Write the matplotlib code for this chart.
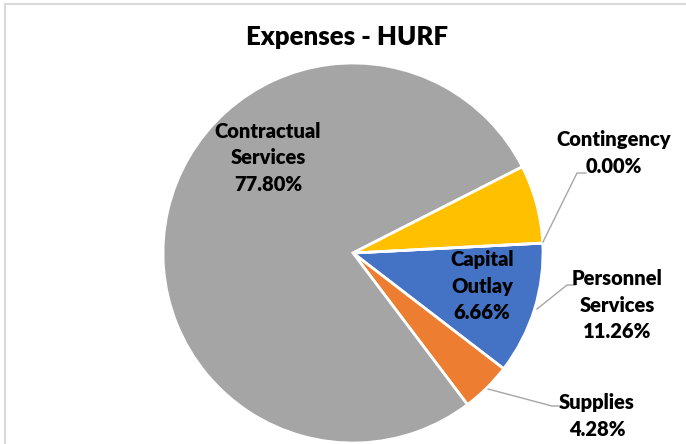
import matplotlib
matplotlib.use('Agg')
import matplotlib.pyplot as plt
from matplotlib.lines import Line2D

categories = ['Personnel Services', 'Supplies', 'Contractual Services', 'Capital Outlay', 'Contingency']
values = [11.26, 4.28, 77.80, 6.66, 0.00]
label_names = ['Personnel\nServices', 'Supplies', 'Contractual\nServices', 'Capital\nOutlay', 'Contingency']
colors = ['#4472C4', '#ED7D31', '#A5A5A5', '#FFC000', '#5B9BD5']

plt.rcParams['font.family'] = ['Lato', 'DejaVu Sans']

W, H = 686, 444
fig = plt.figure(figsize=(W / 100, H / 100), dpi=100)

# pie centre and radius in pixels
cx, cy, r = 353, 253, 190
ax = fig.add_axes([(cx - r) / W, (H - cy - r) / H, 2 * r / W, 2 * r / H])
ax.axis('off')

ax.pie(values, colors=colors, startangle=3, counterclock=False, radius=1,
       center=(0, 0), frame=False,
       wedgeprops=dict(edgecolor='white', linewidth=2))
ax.set_xlim(-1, 1)
ax.set_ylim(-1, 1)
ax.set_aspect('auto')


def px(x, y):
    return (x - cx) / r, (cy - y) / r


# label centres in pixel coordinates
label_pos = {
    'Personnel Services': (617, 305),
    'Supplies': (597, 416),
    'Contractual Services': (268, 158),
    'Capital Outlay': (482, 286),
    'Contingency': (614, 153),
}
for cat, name, val in zip(categories, label_names, values):
    x, y = px(*label_pos[cat])
    ax.text(x, y, f'{name}\n{val:.2f}%', ha='center', va='center',
            fontsize=14.5, fontweight='heavy', linespacing=1.45,
            color='black', clip_on=False)

# leader lines
leaders = [
    [(543, 242), (577, 173), (586, 173)],
    [(537, 309), (567, 285), (575, 285)],
    [(488, 389), (552, 406), (560, 406)],
]
for pts in leaders:
    xs, ys = zip(*[px(*p) for p in pts])
    ax.plot(xs, ys, color='#A6A6A6', linewidth=1, clip_on=False)

fig.text(347 / W, 1 - 37 / H, 'Expenses - HURF', ha='center', va='center',
         fontsize=18.5, fontweight='heavy', color='black')

# chart border (left and top edges)
fig.add_artist(Line2D([4.5 / W, 4.5 / W], [0, 1 - 4.5 / H], color='#D9D9D9', linewidth=1.5))
fig.add_artist(Line2D([4.5 / W, 1], [1 - 4.5 / H, 1 - 4.5 / H], color='#D9D9D9', linewidth=1.5))

fig.savefig('out.png', dpi=100)
